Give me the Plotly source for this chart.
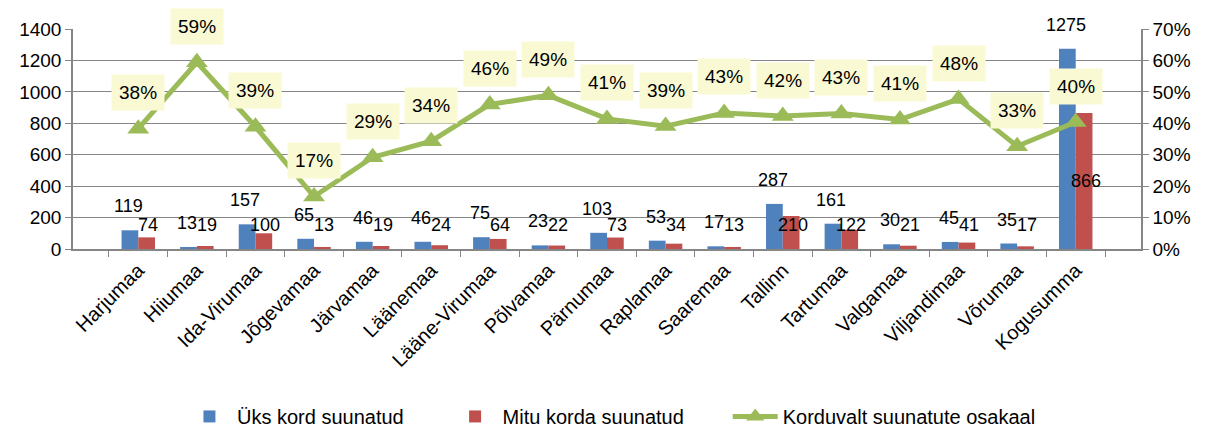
import plotly.graph_objects as go

categories = ["Harjumaa", "Hiiumaa", "Ida-Virumaa", "Jõgevamaa", "Järvamaa", "Läänemaa",
              "Lääne-Virumaa", "Põlvamaa", "Pärnumaa", "Raplamaa", "Saaremaa", "Tallinn",
              "Tartumaa", "Valgamaa", "Viljandimaa", "Võrumaa", "Kogusumma"]
uks_kord = [119, 13, 157, 65, 46, 46, 75, 23, 103, 53, 17, 287, 161, 30, 45, 35, 1275]
mitu_korda = [74, 19, 100, 13, 19, 24, 64, 22, 73, 34, 13, 210, 122, 21, 41, 17, 866]
osakaal = [0.383, 0.594, 0.389, 0.167, 0.292, 0.343, 0.460, 0.489, 0.414, 0.391,
           0.433, 0.423, 0.431, 0.412, 0.477, 0.327, 0.404]
y_ticks = [0, 200, 400, 600, 800, 1000, 1200, 1400]
y2_ticks = [0, 0.1, 0.2, 0.3, 0.4, 0.5, 0.6, 0.7]

FONT = "Liberation Sans, Arial, sans-serif"
BLUE = "#4F81BD"
RED = "#C0504D"
GREEN = "#9BBB59"
GRID = "#868686"
PAD = "\u00a0" * 7

fig = go.Figure()
fig.add_trace(go.Bar(x=categories, y=uks_kord, name="Üks kord suunatud" + PAD,
                     marker=dict(color=BLUE, line=dict(width=0))))
fig.add_trace(go.Bar(x=categories, y=mitu_korda, name="Mitu korda suunatud" + PAD,
                     marker=dict(color=RED, line=dict(width=0))))
fig.add_trace(go.Scatter(x=categories, y=osakaal, name="Korduvalt suunatute osakaal",
                         yaxis="y2", mode="lines+markers",
                         line=dict(color=GREEN, width=5),
                         marker=dict(symbol="triangle-up", size=19, color=GREEN)))

annotations = []
for c, v in zip(categories, uks_kord):
    annotations.append(dict(x=c, y=v, xref="x", yref="y", text=str(v), showarrow=False,
                            xshift=-10, yshift=24, font=dict(size=18, color="black", family=FONT)))
for c, v in zip(categories, mitu_korda):
    annotations.append(dict(x=c, y=max(v / 2, 150), xref="x", yref="y", text=str(v),
                            showarrow=False, xshift=10,
                            font=dict(size=18, color="black", family=FONT)))
for c, p in zip(categories, osakaal):
    annotations.append(dict(x=c, y=p, xref="x", yref="y2", text=f"{round(p * 100)}%",
                            showarrow=False, yshift=36, bgcolor="#F9FAD3", borderpad=7,
                            font=dict(size=19, color="black", family=FONT)))

fig.update_layout(
    width=1206, height=428,
    margin=dict(l=73, r=65, t=29, b=179, autoexpand=False),
    paper_bgcolor="white", plot_bgcolor="white",
    font=dict(family=FONT, size=19, color="black"),
    barmode="group", bargap=0.4286, bargroupgap=0,
    showlegend=True,
    legend=dict(orientation="h", x=0.102, xanchor="left", yref="container",
                y=0.027, yanchor="middle",
                font=dict(size=20, family=FONT), itemwidth=45, tracegroupgap=0),
    xaxis=dict(type="category", tickangle=-45, showgrid=False, showline=True,
               linecolor=GRID, linewidth=1.5, ticks="outside", tickson="boundaries",
               ticklen=6, tickcolor=GRID, tickfont=dict(size=20, family=FONT)),
    yaxis=dict(range=[0, 1400], tickvals=y_ticks, showgrid=True, gridcolor=GRID, gridwidth=1,
               showline=True, linecolor=GRID, linewidth=1.5, ticks="outside", ticklen=6,
               tickcolor=GRID, zeroline=False, tickfont=dict(size=19, family=FONT)),
    yaxis2=dict(range=[0, 0.7], tickvals=y2_ticks, tickformat=".0%", overlaying="y",
                side="right", showgrid=False, showline=True, linecolor=GRID, linewidth=1.5,
                ticks="outside", ticklen=6, tickcolor=GRID, zeroline=False,
                tickfont=dict(size=19, family=FONT)),
    annotations=annotations,
)

fig.write_html("out.html", config={"displayModeBar": False},
               post_script="document.body.style.margin='0';document.body.style.overflow='hidden';")
